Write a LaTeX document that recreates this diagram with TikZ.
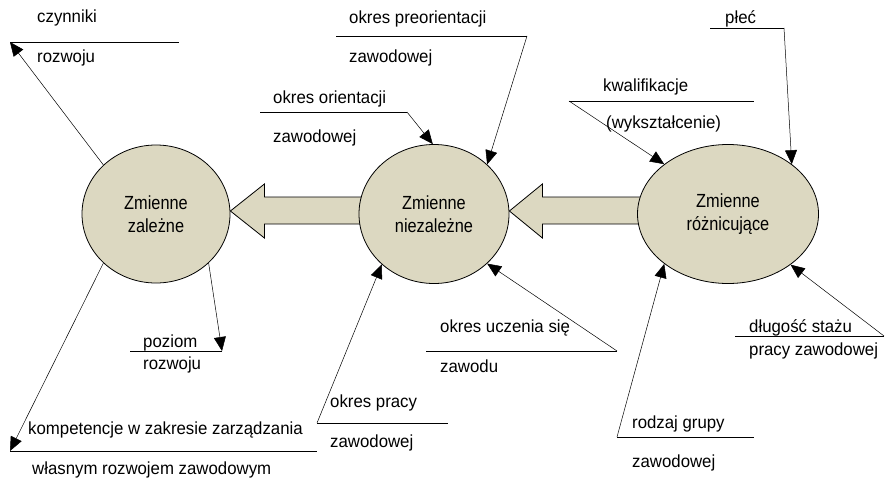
\documentclass[tikz,border=0pt]{standalone}
\usepackage{fontspec}
\setmainfont{Liberation Sans}
\newfontfamily\labelfont[FakeStretch=0.96]{Liberation Sans}
\newfontfamily\varfont[FakeStretch=0.86]{Liberation Sans}
\usetikzlibrary{shapes.geometric,arrows.meta,backgrounds}
\definecolor{varfill}{RGB}{220,216,193}
\tikzset{
  varnode/.style={ellipse, draw=black, line width=0.8pt, fill=varfill,
    inner sep=0pt, align=center, font=\varfont\fontsize{19}{23.5}\selectfont},
  lbltext/.style={anchor=base west, inner sep=0pt,
    font=\labelfont\fontsize{17.5}{20}\selectfont},
  rule/.style={line width=1pt},
  pointer/.style={line width=0.5pt, -{Triangle[length=14pt,width=12pt]}},
  blockarrow/.style={draw=black, line width=0.8pt, fill=varfill, line join=miter},
}
\begin{document}
\begin{tikzpicture}[x=1pt,y=-1pt]
\useasboundingbox (0,0) rectangle (885,479);

% the three groups of variables
\node[varnode, minimum width=148pt, minimum height=138pt] (dep) at (156,214) {Zmienne\\zależne};
\node[varnode, minimum width=150pt, minimum height=139pt] (ind) at (434,214) {Zmienne\\niezależne};
\node[varnode, minimum width=181pt, minimum height=139pt] (dif) at (728,214) {Zmienne\\różnicujące};

% wide arrows between the groups, kept under the ellipses
\begin{scope}[on background layer]
\draw[blockarrow] ([yshift=3pt]dep.east) -- ++(34,-27) -- ++(0,13) -- ++(98,0)
  -- ++(0,27) -- ++(-98,0) -- ++(0,14) -- cycle;
\draw[blockarrow] ([yshift=3pt]ind.east) -- ++(33,-27) -- ++(0,13) -- ++(99,0)
  -- ++(0,27) -- ++(-99,0) -- ++(0,14) -- cycle;
\end{scope}

% czynniki rozwoju
\coordinate (a1) at (10,42);  \coordinate (a2) at (179,42);
\node[lbltext] (ta1) at (37,22) {czynniki};
\node[lbltext] (ta2) at (37,62) {rozwoju};
\draw[rule] (a1) -- (a2);
\draw[pointer] (dep.137) -- (a1);

% okres preorientacji zawodowej
\coordinate (b1) at (336,36); \coordinate (b2) at (527,36);
\node[lbltext] (tb1) at (349,23) {okres preorientacji};
\node[lbltext] (tb2) at (349,62) {zawodowej};
\draw[rule] (b1) -- (b2);
\draw[pointer] (b2) -- (ind.43);

% okres orientacji zawodowej
\coordinate (c1) at (260,112); \coordinate (c2) at (407,112);
\node[lbltext] (tc1) at (273,103) {okres orientacji};
\node[lbltext] (tc2) at (273,142) {zawodowej};
\draw[rule] (c1) -- (c2);
\draw[pointer] (c2) -- (ind.91);

% płeć
\coordinate (d1) at (710,28); \coordinate (d2) at (784,28);
\node[lbltext] (td1) at (725,23) {płeć};
\draw[rule] (d1) -- (d2);
\draw[pointer] (d2) -- (dif.38);

% kwalifikacje (wykształcenie)
\coordinate (e1) at (569,101); \coordinate (e2) at (754,101);
\node[lbltext] (te1) at (603,91) {kwalifikacje};
\node[lbltext] (te2) at (606,128) {(wykształcenie)};
\draw[rule] (e1) -- (e2);
\draw[pointer] (e1) -- (dif.142);

% kompetencje w zakresie zarządzania własnym rozwojem zawodowym
\coordinate (f1) at (10,451); \coordinate (f2) at (317,451);
\node[lbltext] (tf1) at (28,434) {kompetencje w zakresie zarządzania};
\node[lbltext] (tf2) at (32,474) {własnym rozwojem zawodowym};
\draw[rule] (f1) -- (f2);
\draw[pointer] (dep.223) -- (f1);

% poziom rozwoju
\coordinate (g1) at (130,351); \coordinate (g2) at (222,351);
\node[lbltext] (tg1) at (143,347) {poziom};
\node[lbltext] (tg2) at (143,369) {rozwoju};
\draw[rule] (g1) -- (g2);
\draw[pointer] (dep.317) -- (g2);

% okres pracy zawodowej
\coordinate (h1) at (317,423); \coordinate (h2) at (448,423);
\node[lbltext] (th1) at (330,407) {okres pracy};
\node[lbltext] (th2) at (330,447) {zawodowej};
\draw[rule] (h1) -- (h2);
\draw[pointer] (h1) -- (ind.224);

% okres uczenia się zawodu
\coordinate (i1) at (426,351); \coordinate (i2) at (617,351);
\node[lbltext] (ti1) at (440,332) {okres uczenia się};
\node[lbltext] (ti2) at (440,372) {zawodu};
\draw[rule] (i1) -- (i2);
\draw[pointer] (i2) -- (ind.317);

% rodzaj grupy zawodowej
\coordinate (j1) at (617,437); \coordinate (j2) at (754,437);
\node[lbltext] (tj1) at (632,428) {rodzaj grupy};
\node[lbltext] (tj2) at (632,467) {zawodowej};
\draw[rule] (j1) -- (j2);
\draw[pointer] (j1) -- (dif.218);

% długość stażu pracy zawodowej
\coordinate (k1) at (735,336); \coordinate (k2) at (884,336);
\node[lbltext] (tk1) at (749,332) {długość stażu};
\node[lbltext] (tk2) at (749,355) {pracy zawodowej};
\draw[rule] (k1) -- (k2);
\draw[pointer] (k2) -- (dif.321);
\end{tikzpicture}
\end{document}
